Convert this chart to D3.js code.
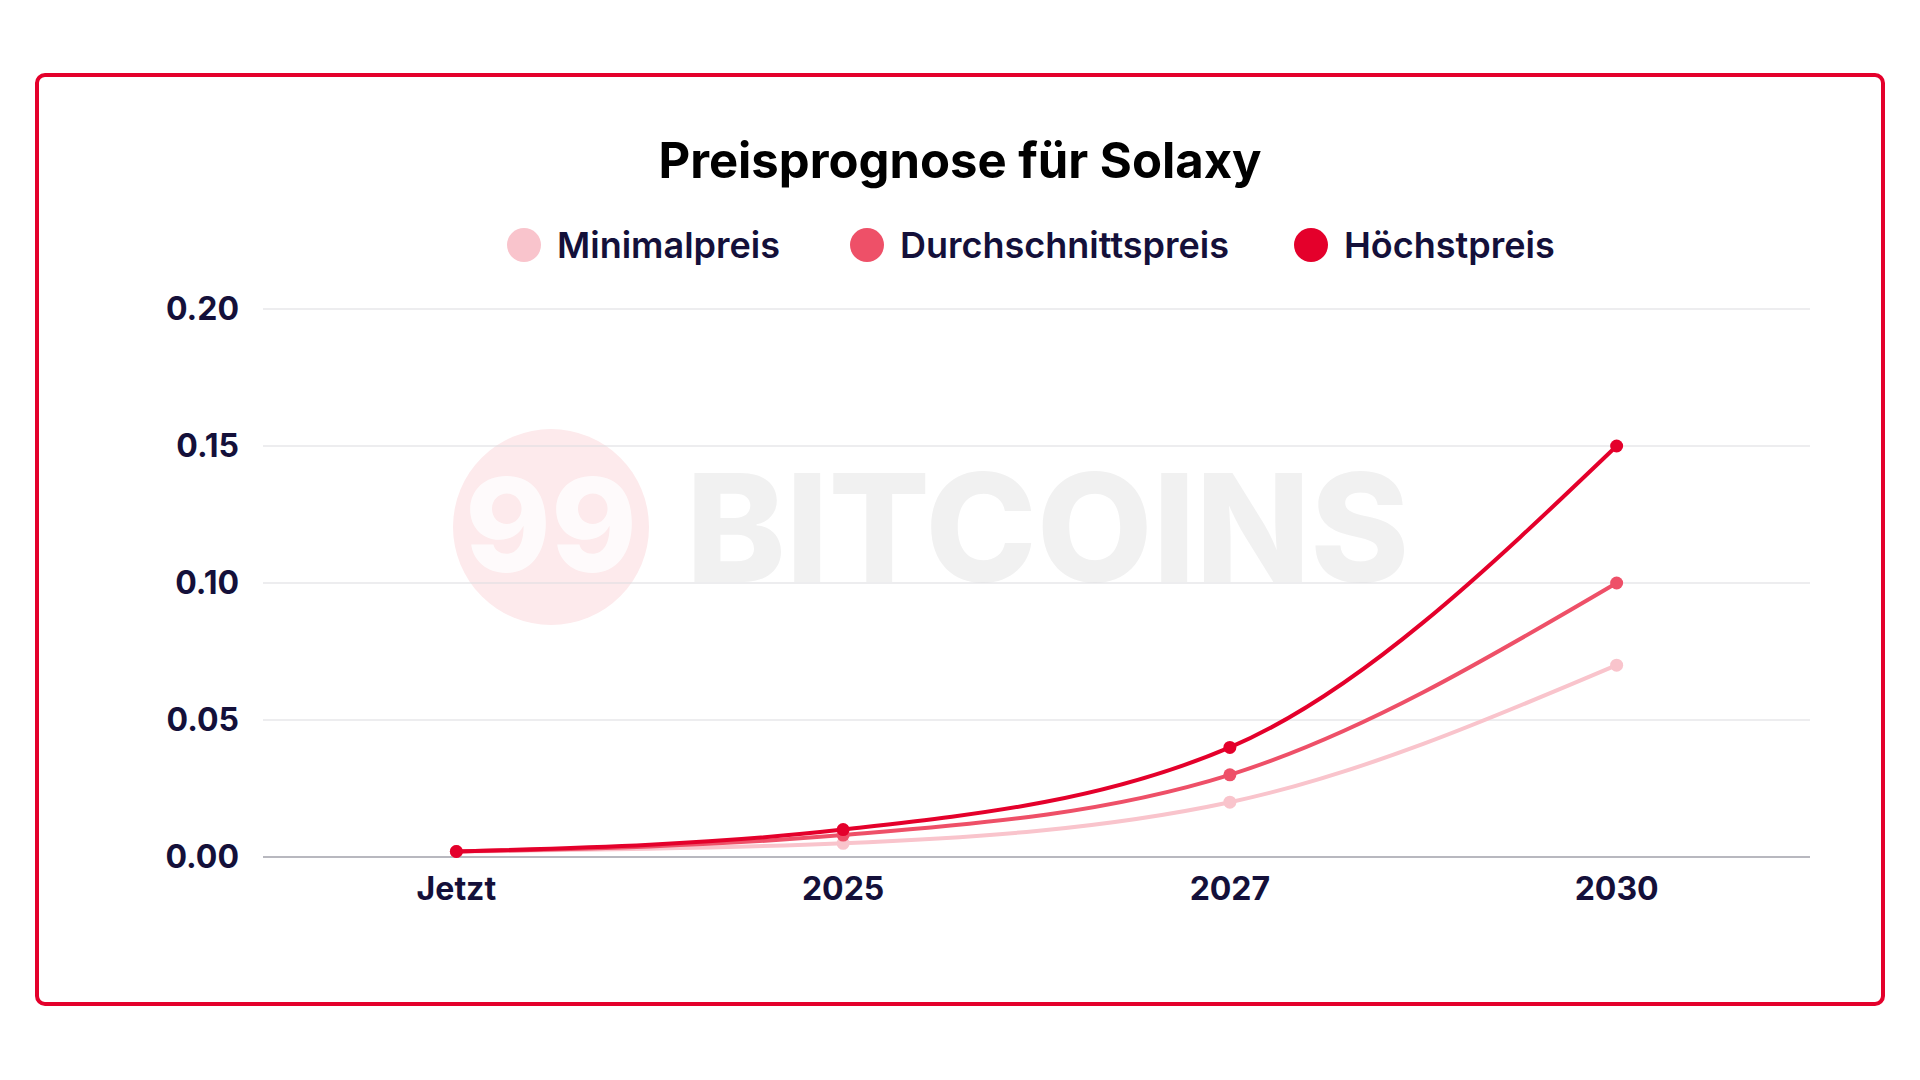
<!DOCTYPE html>
<html>
<head>
<meta charset="utf-8">
<script src="https://cdn.jsdelivr.net/npm/d3@7"></script>
<style>
  body { margin: 0; background: #fff; }
  svg { display: block; font-family: Inter, "Noto Sans", sans-serif; }
</style>
</head>
<body>
<svg id="chart"></svg>
<script>
const categories = ["Jetzt", "2025", "2027", "2030"];
const minPrice = [0.002, 0.005, 0.02, 0.07];
const avgPrice = [0.002, 0.008, 0.03, 0.10];
const maxPrice = [0.002, 0.01, 0.04, 0.15];
const yTicks = [0, 0.05, 0.10, 0.15, 0.20];

const series = [
  { name: "Minimalpreis", values: minPrice, color: "#f9c4cc" },
  { name: "Durchschnittspreis", values: avgPrice, color: "#ee5068" },
  { name: "Höchstpreis", values: maxPrice, color: "#e4002b" }
];

const width = 1920, height = 1080;
const textColor = "#14103a";

const svg = d3.select("#chart").attr("width", width).attr("height", height);

svg.append("rect")
  .attr("x", 37).attr("y", 75).attr("width", 1846).attr("height", 929)
  .attr("rx", 8).attr("fill", "#fff").attr("stroke", "#e4002b").attr("stroke-width", 4);

// watermark
const wm = svg.append("g");
wm.append("circle").attr("cx", 551).attr("cy", 527).attr("r", 98).attr("fill", "#fdeaec");
wm.append("text").attr("x", 551).attr("y", 572).attr("text-anchor", "middle")
  .attr("font-size", 130).attr("font-weight", 800).attr("fill", "#fff").attr("opacity", 0.8).text("99");
wm.append("text").attr("x", 686).attr("y", 582)
  .attr("font-size", 150).attr("font-weight", 800).attr("fill", "#f1f1f1").text("BITCOINS");

svg.append("text")
  .attr("x", 960).attr("y", 178).attr("text-anchor", "middle")
  .attr("font-size", 49).attr("font-weight", 700).attr("fill", "#000")
  .text("Preisprognose für Solaxy");

const legendX = [524, 867, 1311];
const legend = svg.append("g").selectAll("g").data(series).join("g")
  .attr("transform", (d, i) => `translate(${legendX[i]},245)`);
legend.append("circle").attr("r", 17).attr("fill", d => d.color);
legend.append("text").attr("x", 33).attr("dy", "0.35em")
  .attr("font-size", 36).attr("font-weight", 600).attr("fill", textColor).text(d => d.name);

const x = d3.scalePoint().domain(categories).range([263, 1810]).padding(0.5);
const y = d3.scaleLinear().domain([0, 0.2]).range([857, 309]);

svg.append("g").selectAll("line").data(yTicks).join("line")
  .attr("x1", 263).attr("x2", 1810)
  .attr("y1", d => y(d)).attr("y2", d => y(d))
  .attr("stroke", d => d === 0 ? "#b8b8bf" : "#dcdce0").attr("stroke-width", d => d === 0 ? 2 : 1.2);

svg.append("g").selectAll("text").data(yTicks).join("text")
  .attr("x", 239).attr("y", d => y(d)).attr("dy", "0.35em").attr("text-anchor", "end")
  .attr("font-size", 32).attr("font-weight", 700).attr("fill", textColor)
  .text(d => d.toFixed(2));

svg.append("g").selectAll("text").data(categories).join("text")
  .attr("x", d => x(d)).attr("y", 889).attr("dy", "0.35em").attr("text-anchor", "middle")
  .attr("font-size", 32).attr("font-weight", 700).attr("fill", textColor)
  .text(d => d);

const line = d3.line()
  .x((d, i) => x(categories[i]))
  .y(d => y(d))
  .curve(d3.curveMonotoneX);

const g = svg.append("g").selectAll("g").data(series).join("g");
g.append("path").attr("d", d => line(d.values))
  .attr("fill", "none").attr("stroke", d => d.color).attr("stroke-width", 4);
g.each(function(s) {
  d3.select(this).selectAll("circle").data(s.values).join("circle")
    .attr("cx", (d, i) => x(categories[i])).attr("cy", d => y(d))
    .attr("r", 6.5).attr("fill", s.color);
});
</script>
</body>
</html>
